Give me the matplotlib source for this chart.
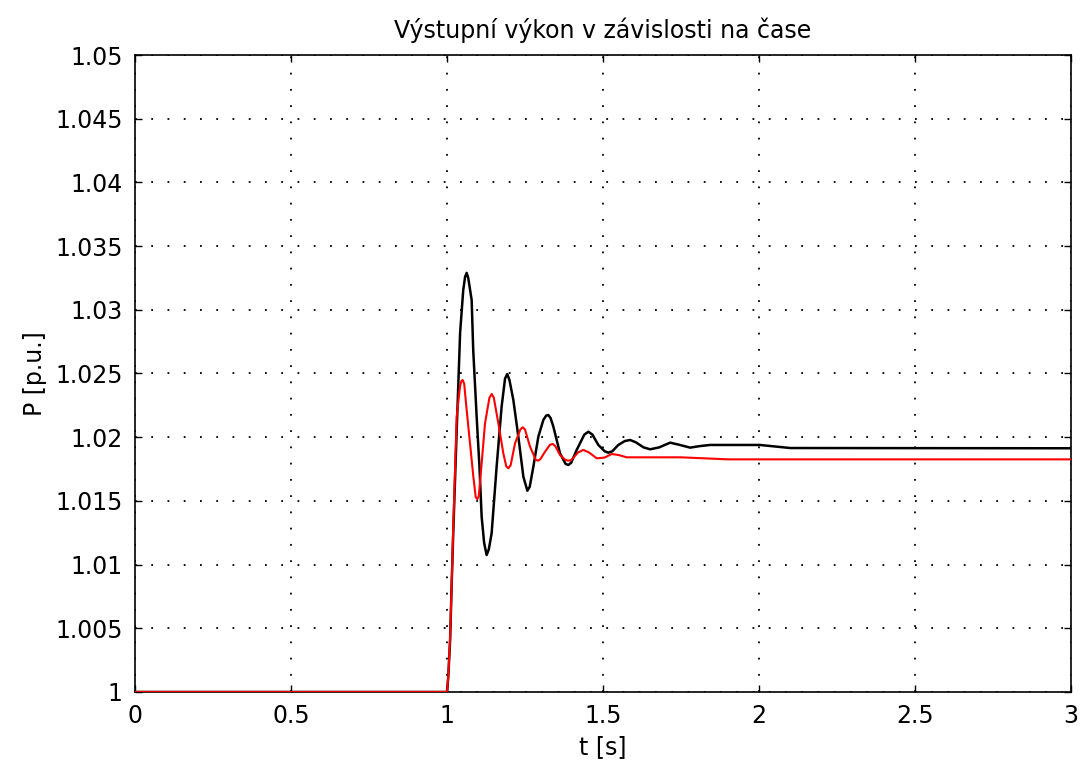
import matplotlib
matplotlib.use("Agg")
import matplotlib.pyplot as plt

title = "Výstupní výkon v závislosti na čase"
xlabel = "t [s]"
ylabel = "P [p.u.]"

xticks = [0, 0.5, 1, 1.5, 2, 2.5, 3]
xticklabels = ["0", "0.5", "1", "1.5", "2", "2.5", "3"]
yticks = [1, 1.005, 1.01, 1.015, 1.02, 1.025, 1.03, 1.035, 1.04, 1.045, 1.05]
yticklabels = ["1", "1.005", "1.01", "1.015", "1.02", "1.025", "1.03", "1.035", "1.04", "1.045", "1.05"]

t_black = [0.0, 1.0, 1.004, 1.010, 1.015, 1.020, 1.031, 1.042, 1.052, 1.058, 1.063, 1.068, 1.079,
           1.084, 1.095, 1.104, 1.111, 1.119, 1.127, 1.134, 1.143, 1.159, 1.175, 1.186, 1.193,
           1.200, 1.2126, 1.2286, 1.2447, 1.2575, 1.265, 1.2767, 1.2927, 1.3087, 1.318, 1.3248,
           1.332, 1.3408, 1.3622, 1.380, 1.389, 1.398, 1.4156, 1.440, 1.453, 1.466, 1.485,
           1.505, 1.517, 1.530, 1.549, 1.570, 1.587, 1.605, 1.630, 1.651, 1.680, 1.715,
           1.745, 1.779, 1.810, 1.843, 2.003, 2.1, 3.0]
p_black = [1.0, 1.0, 1.0012, 1.0041, 1.0085, 1.0125, 1.0205, 1.0282, 1.03155, 1.0326, 1.0329,
           1.0325, 1.03077, 1.02684, 1.02161, 1.01768, 1.01376, 1.0117, 1.01075, 1.0112,
           1.01245, 1.01768, 1.0224, 1.0246, 1.02496, 1.0245, 1.02292, 1.02004, 1.0169,
           1.0158, 1.0161, 1.01768, 1.02004, 1.02135, 1.0217, 1.02174, 1.0215, 1.02083,
           1.01873, 1.0179, 1.01782, 1.0180, 1.019, 1.0202, 1.02043, 1.0202, 1.01939,
           1.0189, 1.01878, 1.0189, 1.01939, 1.0197, 1.01978, 1.0196, 1.0192, 1.01905,
           1.0192, 1.01957, 1.0194, 1.01918, 1.0193, 1.01939, 1.01939, 1.01915, 1.01913]

t_red = [0.0, 1.0, 1.004, 1.0096, 1.015, 1.0203, 1.031, 1.0417, 1.046, 1.050, 1.055, 1.063,
         1.0737, 1.0844, 1.092, 1.097, 1.102, 1.111, 1.1218, 1.136, 1.1432, 1.150, 1.1645,
         1.1805, 1.190, 1.1966, 1.204, 1.218, 1.235, 1.2425, 1.250, 1.266, 1.285, 1.2927,
         1.300, 1.314, 1.330, 1.3387, 1.347, 1.3622, 1.380, 1.389, 1.398, 1.420, 1.437, 1.455,
         1.48, 1.505, 1.528, 1.550, 1.576, 1.75, 1.9, 3.0]
p_red = [1.0, 1.0, 1.0012, 1.0041, 1.0085, 1.01324, 1.02161, 1.0240, 1.0244, 1.02449, 1.0242,
         1.02213, 1.01952, 1.0169, 1.0153, 1.01513, 1.0154, 1.01795, 1.02109, 1.0231,
         1.02339, 1.0231, 1.02109, 1.01873, 1.0177, 1.01756, 1.0178, 1.01952, 1.0206,
         1.02078, 1.0206, 1.01926, 1.0182, 1.01816, 1.0183, 1.01886, 1.0194, 1.01947,
         1.0193, 1.0186, 1.0182, 1.01816, 1.0182, 1.0188, 1.019, 1.0188, 1.01834, 1.0184,
         1.01868, 1.0186, 1.01842, 1.01842, 1.01826, 1.01826]

plt.rcParams['font.family'] = ['DejaVu Sans']
fig = plt.figure(figsize=(10.8, 7.62), dpi=100)
ax = fig.add_axes([0.125, 0.0919, 0.8667, 0.8359])

ax.plot(t_black, p_black, color='black', lw=1.8, zorder=3)
ax.plot(t_red, p_red, color='red', lw=1.5, zorder=4)

ax.set_xlim(0, 3)
ax.set_ylim(1, 1.05)
ax.set_xticks(xticks)
ax.set_xticklabels(xticklabels)
ax.set_yticks(yticks)
ax.set_yticklabels(yticklabels)
ax.tick_params(direction='in', length=5, width=1, labelsize=17, top=True, right=True,
               pad=9)
ax.grid(True, color='black', linestyle=(0, (1, 8)), linewidth=1.3)
for s in ax.spines.values():
    s.set_linewidth(1.2)
ax.set_title(title, fontsize=17, pad=12)
ax.set_xlabel(xlabel, fontsize=17, labelpad=5)
ax.set_ylabel(ylabel, fontsize=17, labelpad=6)

fig.savefig("out.png", dpi=100)
